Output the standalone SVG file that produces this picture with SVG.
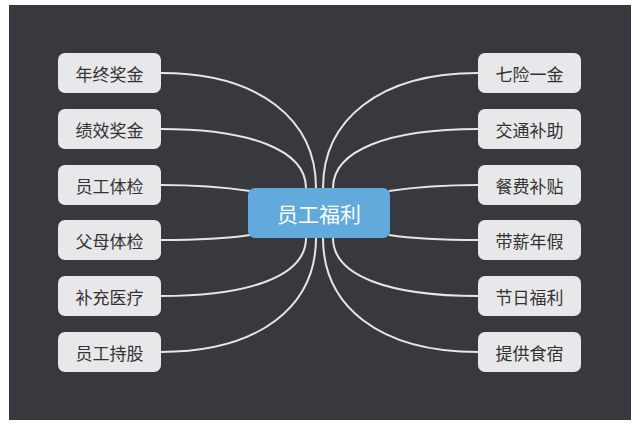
<svg xmlns="http://www.w3.org/2000/svg" width="639" height="427" viewBox="0 0 639 427">
<style>
.n rect{fill:#e8e8ea;rx:7px}
.n text{font-family:"Noto Sans CJK SC",sans-serif;font-size:17px;fill:#333;text-anchor:middle;dominant-baseline:central}
#links path{fill:none;stroke:#e6e6e6;stroke-width:2}
</style>
<rect width="639" height="427" fill="#fff"/>
<rect x="9" y="5" width="622" height="415" fill="#38393e"/>
<g id="links">
<path d="M161,73 C260,73 316,120 316,188"/>
<path d="M161,129 C250,129 306,150 306,188"/>
<path d="M161,185 C200,185 230,188 250,191"/>
<path d="M161,240 C200,240 230,238 250,235"/>
<path d="M161,296 C250,296 306,276 306,238"/>
<path d="M161,352 C260,352 316,306 316,238"/>
<path d="M478,73 C379,73 323,120 323,188"/>
<path d="M478,129 C389,129 333,150 333,188"/>
<path d="M478,185 C439,185 409,188 389,191"/>
<path d="M478,240 C439,240 409,238 389,235"/>
<path d="M478,296 C389,296 333,276 333,238"/>
<path d="M478,352 C379,352 323,306 323,238"/>
</g>
<g id="center"><rect x="248" y="188" width="142" height="50" rx="7" fill="#62a9dc"/><text x="319" y="213" font-family="Noto Sans CJK SC,sans-serif" font-size="21" fill="#fff" text-anchor="middle" dominant-baseline="central">员工福利</text></g>
<g id="l1" class="n"><rect x="58" y="53" width="103" height="40"/><text x="109.5" y="73">年终奖金</text></g>
<g id="l2" class="n"><rect x="58" y="109" width="103" height="40"/><text x="109.5" y="129">绩效奖金</text></g>
<g id="l3" class="n"><rect x="58" y="165" width="103" height="40"/><text x="109.5" y="185">员工体检</text></g>
<g id="l4" class="n"><rect x="58" y="220" width="103" height="40"/><text x="109.5" y="240">父母体检</text></g>
<g id="l5" class="n"><rect x="58" y="276" width="103" height="40"/><text x="109.5" y="296">补充医疗</text></g>
<g id="l6" class="n"><rect x="58" y="332" width="103" height="40"/><text x="109.5" y="352">员工持股</text></g>
<g id="r1" class="n"><rect x="478" y="53" width="103" height="40"/><text x="529.5" y="73">七险一金</text></g>
<g id="r2" class="n"><rect x="478" y="109" width="103" height="40"/><text x="529.5" y="129">交通补助</text></g>
<g id="r3" class="n"><rect x="478" y="165" width="103" height="40"/><text x="529.5" y="185">餐费补贴</text></g>
<g id="r4" class="n"><rect x="478" y="220" width="103" height="40"/><text x="529.5" y="240">带薪年假</text></g>
<g id="r5" class="n"><rect x="478" y="276" width="103" height="40"/><text x="529.5" y="296">节日福利</text></g>
<g id="r6" class="n"><rect x="478" y="332" width="103" height="40"/><text x="529.5" y="352">提供食宿</text></g>
</svg>
